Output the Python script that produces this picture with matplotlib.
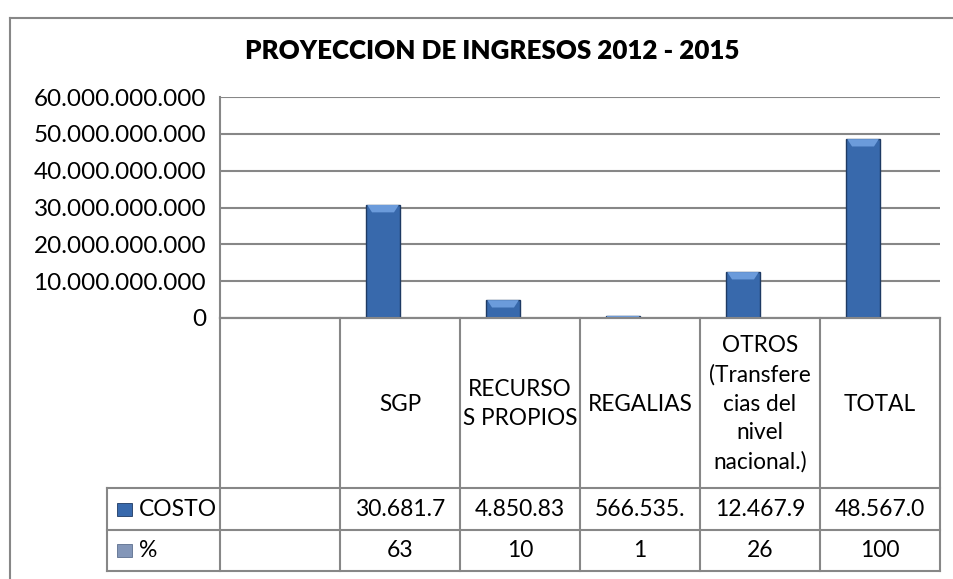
import numpy as np
import matplotlib.pyplot as plt
from matplotlib.patches import Polygon, Rectangle
from matplotlib.lines import Line2D
from matplotlib.ticker import FuncFormatter

plt.rcParams['font.family'] = ['Lato', 'DejaVu Sans']

# =========================
# DATA
# =========================
title = "PROYECCION DE INGRESOS 2012 - 2015"
categories = ["", "SGP", "RECURSO\nS PROPIOS", "REGALIAS",
              "OTROS\n(Transfere\ncias del\nnivel\nnacional.)", "TOTAL"]
series_names = ["COSTO", "%"]
costo = [np.nan, 30681700000, 4850830000, 566535000, 12467900000, 48567000000]
porcentaje = [np.nan, 63, 10, 1, 26, 100]
y_ticks = [0, 10e9, 20e9, 30e9, 40e9, 50e9, 60e9]

GRID = "#878787"
BAR = "#3869AC"
BAR_EDGE = "#1E3A63"
BEVEL = "#6B9BDB"
KEY2 = "#8396B8"

W, H = 954, 579


def fx(px):
    return px / W


def fy(py):
    return 1 - py / H


def miles(v, pos=None):
    return f"{v:,.0f}".replace(",", ".")


fig = plt.figure(figsize=(W / 100, H / 100), dpi=100)

# chart border
fig.add_artist(Line2D([fx(10), fx(10)], [fy(18), 0], transform=fig.transFigure, color=GRID, lw=1.5))
fig.add_artist(Line2D([fx(10), 1], [fy(18), fy(18)], transform=fig.transFigure, color=GRID, lw=1.5))

fig.text(fx(492), fy(51), title, ha="center", va="center", fontsize=18.7, weight="heavy")

# =========================
# BAR AREA
# =========================
ax = fig.add_axes([fx(220), fy(318), (940 - 220) / W, (318 - 97) / H])
x = np.arange(len(categories))
w = 0.283
ax.bar(x - w / 2, costo, w, color=BAR, edgecolor=BAR_EDGE, linewidth=1, zorder=3)
ax.bar(x + w / 2, porcentaje, w, color=KEY2, linewidth=0, zorder=3)

# bevel on top of each bar
for xi, v in zip(x, costo):
    if np.isnan(v):
        continue
    h = min(2.0e9, v)
    x0, x1 = xi - w, xi
    d = 0.05 if v > 2.0e9 else 0.0
    ax.add_patch(Polygon([(x0 + 0.01, v), (x1 - 0.01, v), (x1 - d, v - h), (x0 + d, v - h)],
                         closed=True, color=BEVEL, lw=0, zorder=4))

ax.set_xlim(-0.5, len(categories) - 0.5)
ax.set_ylim(0, 60e9)
ax.set_yticks(y_ticks)
ax.yaxis.set_major_formatter(FuncFormatter(miles))
ax.set_xticks([])
ax.tick_params(axis="y", length=0, pad=10, labelsize=17.5)
ax.grid(axis="y", color=GRID, lw=1.5, zorder=0)
for s in ["top", "right"]:
    ax.spines[s].set_visible(False)
for s in ["left", "bottom"]:
    ax.spines[s].set_color(GRID)
    ax.spines[s].set_linewidth(1.5)

# =========================
# DATA TABLE
# =========================
leg_w = (220 - 107) / 120
tab = fig.add_axes([fx(107), fy(571), (940 - 107) / W, (571 - 318) / H])
tab.set_xlim(-0.5 - leg_w, len(categories) - 0.5)
tab.set_ylim(253, 0)
tab.axis("off")

rows = [0, 170, 212, 253]
left = -0.5 - leg_w
right = len(categories) - 0.5
for i, r in enumerate(rows):
    x_start = -0.5 if i == 0 else left
    tab.plot([x_start, right], [r, r], color=GRID, lw=1.5, clip_on=False)
for k in range(len(categories) + 1):
    tab.plot([k - 0.5, k - 0.5], [0, 253], color=GRID, lw=1.5, clip_on=False)
tab.plot([left, left], [170, 253], color=GRID, lw=1.5, clip_on=False)

for xi, cat in zip(x, categories):
    tab.text(xi, 86, cat, ha="center", va="center", fontsize=16.3, linespacing=1.45)

for r0, r1, name, vals, key in [(170, 212, series_names[0], costo, BAR),
                                 (212, 253, series_names[1], porcentaje, KEY2)]:
    yc = (r0 + r1) / 2
    tab.add_patch(Rectangle((left + 10 / 120, yc - 6.5), 15 / 120, 13, facecolor=key,
                            edgecolor=BAR_EDGE if key == BAR else "#5C6E8E", lw=0.6))
    tab.text(left + 32 / 120, yc, name, ha="left", va="center", fontsize=16.5)
    for xi, v in zip(x, vals):
        if np.isnan(v):
            continue
        tab.text(xi, yc, miles(v)[:8], ha="center", va="center", fontsize=16.5)

fig.savefig("out.png", dpi=100)
